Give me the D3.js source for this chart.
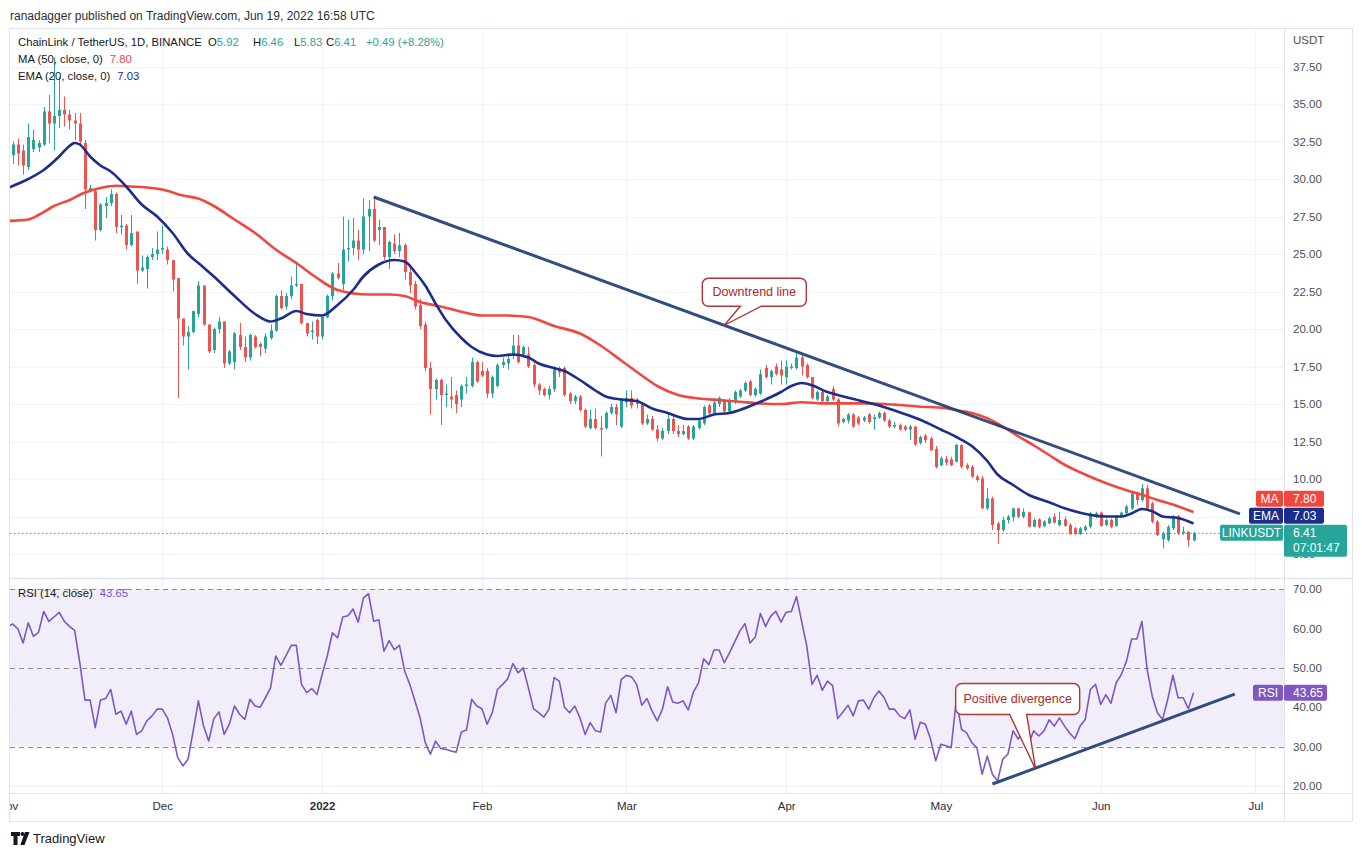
<!DOCTYPE html>
<html><head><meta charset="utf-8">
<script src="https://cdn.jsdelivr.net/npm/d3@7"></script>
<style>
html,body{margin:0;padding:0;background:#fff;}
svg{display:block;font-family:"Liberation Sans",Arial,sans-serif;}
</style></head><body>
<svg id="c" width="1362" height="856"></svg>
<script>
// ---------------- DATA ----------------
const candleStart = "2021-11-02";
const opens = [
31.6,32.3,31.9,30.8,32.0,32.1,32.3,34.5,33.7,34.2,
34.6,34.3,33.9,33.7,32.4,29.2,29.2,26.6,28.2,28.4,
29.0,26.8,26.9,25.6,26.5,23.9,24.0,24.8,25.0,25.3,
25.3,24.6,23.4,20.7,19.5,19.8,21.0,22.9,20.3,18.6,
20.0,20.5,17.7,17.8,19.6,18.8,18.1,19.5,19.0,18.7,
19.4,19.9,22.2,21.5,22.2,22.9,23.0,20.4,19.8,20.6,
19.5,20.8,22.2,23.7,23.0,25.3,25.4,25.9,25.3,27.5,
28.0,26.6,26.8,24.8,25.7,25.2,25.6,23.8,23.0,21.6,
20.3,17.4,16.0,16.6,15.6,15.5,15.6,15.3,16.2,16.2,
17.8,17.2,17.2,15.7,16.2,17.6,17.7,18.2,18.9,18.3,
18.3,17.6,16.3,16.0,15.6,16.0,17.4,17.4,15.7,15.2,
15.5,14.6,13.4,14.0,13.4,13.4,14.4,14.8,13.5,15.1,
15.4,15.3,15.0,13.7,14.0,13.3,12.7,13.2,14.0,13.2,
13.0,13.5,12.7,13.4,13.7,14.9,14.4,15.0,15.2,14.5,
15.2,15.5,15.9,16.5,15.6,15.7,17.4,16.8,17.5,17.3,
16.8,17.4,17.4,18.1,17.6,16.8,15.3,15.8,15.2,16.0,
15.3,13.8,13.9,14.3,14.1,13.9,14.3,14.0,14.1,14.4,
13.9,13.5,13.6,13.5,13.3,13.5,12.4,12.9,12.7,12.0,
10.93,11.33,11.31,11.16,12.27,10.93,10.82,10.16,10.04,8.04,
8.71,7.04,6.6,7.27,7.45,8.04,7.49,7.78,6.82,7.31,
6.87,7.04,7.49,6.93,7.31,6.93,6.71,6.33,6.6,6.82,
7.49,7.76,6.93,7.27,6.87,7.49,7.71,8.04,9.04,8.6,
9.38,8.38,7.16,5.98,5.93,6.71,7.53,6.38,6.49,5.92];
const highs = [
32.5,32.7,32.3,33.7,33.3,32.6,34.8,35.6,38.1,36.8,
35.5,34.6,34.4,34.4,32.6,29.6,29.3,28.4,28.8,29.3,
29.1,27.6,27.0,27.6,26.5,24.9,24.9,25.4,26.5,26.9,
25.5,24.6,23.4,20.7,20.2,21.2,23.2,22.9,20.3,20.1,
20.8,20.5,18.6,19.8,20.4,19.5,19.7,19.6,19.1,19.7,
20.3,22.3,22.6,22.4,23.5,24.5,23.0,20.4,20.5,20.7,
20.9,22.3,23.8,24.4,27.5,27.3,27.4,26.6,28.7,28.6,
28.8,27.3,26.8,25.9,26.3,26.4,25.7,24.3,23.2,22.0,
20.5,17.8,16.7,16.7,16.3,16.8,15.9,16.3,16.8,18.1,
17.9,17.8,17.4,16.9,17.7,18.1,18.3,19.6,19.6,18.9,
18.8,17.8,16.4,16.1,16.2,17.5,17.5,17.5,15.8,15.6,
15.6,14.7,14.6,14.7,14.2,14.5,15.0,15.0,15.4,15.9,
15.9,15.4,15.0,14.3,14.2,13.6,13.4,14.4,14.2,13.6,
13.6,13.6,13.6,14.0,14.9,15.0,15.4,15.5,15.3,15.4,
15.9,16.0,16.5,16.6,16.1,17.3,17.6,17.3,17.7,17.9,
17.9,17.7,18.4,18.3,17.7,16.8,15.9,15.9,15.6,16.2,
15.4,14.1,14.4,14.4,14.2,14.2,14.4,14.3,14.5,14.5,
14.0,13.8,13.7,13.6,13.6,13.5,12.9,13.0,12.8,12.2,
11.5,11.55,11.5,12.33,12.3,11.05,10.93,10.27,10.2,9.38,
8.82,7.16,7.49,7.6,8.09,8.09,8.04,7.82,7.38,7.38,
7.25,7.49,7.71,7.82,7.49,7.04,6.8,6.8,6.93,7.82,
7.82,7.82,7.35,7.38,7.6,7.82,8.27,9.16,9.16,9.67,
9.6,8.49,7.27,6.49,6.93,7.6,7.6,6.82,6.49,6.46];
const lows = [
31.0,30.9,30.3,30.6,31.8,31.8,32.2,32.4,31.9,33.4,
33.5,33.3,32.6,32.3,28.0,29.1,25.9,26.5,27.4,28.2,
26.4,26.3,25.3,25.5,23.0,23.8,22.7,24.6,24.6,25.0,
24.3,22.5,15.4,18.9,17.3,19.7,20.8,20.2,18.4,18.4,
19.7,17.4,17.6,17.3,18.6,17.8,17.9,18.7,18.2,18.4,
19.3,19.8,21.3,21.3,22.0,22.8,20.3,19.5,19.3,19.0,
19.3,20.7,21.9,23.3,22.6,24.5,24.9,24.6,25.0,25.2,
25.8,25.6,24.6,24.0,25.0,24.8,23.3,22.4,21.3,20.0,
17.2,14.3,15.3,13.6,14.8,14.7,14.4,14.8,15.7,16.1,
16.4,16.8,15.4,15.4,16.1,17.4,17.3,18.0,17.7,18.1,
17.4,16.1,15.6,15.5,15.3,15.8,16.8,15.5,15.0,15.0,
14.5,13.4,13.3,13.3,11.5,13.3,14.3,13.6,13.4,14.8,
14.7,14.7,13.6,13.6,13.2,12.5,12.6,13.0,13.0,12.8,
12.9,12.6,12.6,13.3,13.6,14.3,14.3,14.8,14.4,14.4,
15.0,15.4,15.8,15.5,15.5,15.6,16.7,16.3,16.9,16.3,
16.3,17.3,17.3,16.9,16.7,15.3,15.2,15.1,15.1,15.2,
13.5,13.7,13.7,13.4,13.6,13.8,13.7,13.3,14.0,13.8,
13.4,13.4,13.2,13.2,12.6,12.2,12.3,12.4,11.9,10.7,
10.85,10.9,10.85,11.1,10.7,10.6,10.05,9.82,8.0,7.93,
6.6,5.67,6.49,7.04,7.16,7.38,7.38,6.76,6.78,6.71,
6.8,7.0,7.04,6.82,6.82,6.27,6.25,6.27,6.49,6.71,
7.38,6.82,6.87,6.71,6.82,7.38,7.6,7.93,8.27,8.49,
8.04,7.04,6.2,5.38,5.82,6.6,6.27,6.27,5.49,5.83];
const closes = [
32.3,31.7,30.9,32.8,32.6,32.4,34.5,33.7,34.2,34.6,
34.3,33.9,33.7,32.5,29.3,29.4,26.6,28.3,28.4,29.0,
26.8,26.9,25.6,26.4,23.9,24.1,24.8,25.0,25.3,25.4,
24.6,23.3,20.7,19.5,19.8,21.2,22.9,20.3,18.5,20.0,
20.5,17.7,18.5,19.7,18.8,18.1,19.6,18.8,18.8,19.5,
19.9,22.2,21.4,22.2,22.9,23.0,20.4,19.7,19.9,19.5,
20.8,22.2,23.7,23.4,25.3,25.4,25.9,25.3,27.5,28.0,
25.9,26.8,24.8,25.8,25.2,25.6,23.8,22.9,21.5,20.2,
17.4,16.0,16.6,15.6,15.7,15.3,15.0,16.2,16.3,17.8,
16.5,16.9,15.7,16.8,17.6,17.8,18.0,18.9,17.8,18.8,
17.5,16.3,15.9,15.6,16.0,17.4,17.1,15.6,15.2,15.5,
14.6,13.5,14.0,13.4,13.3,14.4,14.8,14.3,15.3,15.4,
14.9,15.0,13.7,14.0,13.3,12.7,13.2,14.0,13.2,13.0,
13.2,12.7,13.5,13.9,14.8,14.4,15.1,15.4,14.5,15.2,
15.8,15.9,16.4,15.6,16.0,17.0,16.8,17.2,17.0,16.9,
17.5,17.5,18.1,17.5,16.8,15.4,15.8,15.2,15.5,15.3,
13.7,14.0,14.3,13.5,13.7,14.1,13.8,14.1,14.4,13.9,
13.5,13.6,13.3,13.3,13.5,12.3,12.8,12.6,11.9,10.8,
11.38,11.09,10.93,12.27,10.82,10.71,10.16,9.93,8.04,8.71,
6.93,6.6,7.27,7.49,8.04,7.49,7.82,6.82,7.27,6.82,
7.16,7.38,7.09,7.27,6.87,6.33,6.33,6.71,6.82,7.71,
7.71,6.87,7.27,6.82,7.49,7.76,8.16,9.04,8.6,9.38,
8.04,7.16,6.27,6.38,6.82,7.49,6.38,6.49,5.92,6.41];

const rsiStart = "2021-11-01";
const rsiValues = [
60.5,61.1,59.9,56.3,61.4,58.0,59.0,64.3,61.8,62.9,
64.1,61.8,60.5,59.5,51.3,41.8,41.8,34.8,41.8,42.2,
44.5,38.2,39.0,35.7,39.0,33.1,34.0,36.5,37.8,39.5,
39.5,37.3,33.1,27.2,25.1,26.8,34.0,41.6,35.2,31.4,
37.1,38.8,33.1,35.7,40.3,38.2,36.9,42.0,40.3,40.0,
42.4,44.9,53.0,50.6,53.1,55.7,55.7,45.8,43.7,44.7,
43.2,48.3,53.0,58.9,57.6,62.9,63.2,64.9,61.6,67.7,
68.8,61.8,62.2,54.2,56.9,54.6,55.7,49.2,45.8,41.6,
37.3,31.0,28.1,31.4,29.5,29.3,28.9,28.6,33.7,34.2,
42.0,40.3,39.6,35.7,38.6,44.5,45.8,47.2,51.1,48.7,
50.0,44.9,39.6,38.6,37.5,39.5,47.5,46.6,40.0,38.6,
40.3,37.3,33.1,36.1,34.0,33.7,41.1,43.0,38.6,47.0,
48.1,47.7,45.8,40.5,42.2,39.0,36.5,39.5,45.2,41.3,
41.0,41.6,39.3,43.8,46.2,52.3,50.8,54.5,54.5,51.3,
53.8,56.5,59.3,61.2,56.3,57.8,63.8,60.5,63.1,64.3,
61.6,64.1,64.3,68.1,61.8,55.5,45.8,48.1,44.3,46.6,
45.5,37.1,38.8,40.5,37.8,41.6,41.8,39.5,42.4,44.1,
42.4,39.5,39.5,37.8,37.1,39.3,31.9,36.2,35.7,31.9,
26.4,30.6,30.2,29.7,42.0,34.4,33.5,31.0,29.7,23.0,
27.6,23.0,21.3,26.8,28.1,34.0,31.9,34.4,30.6,34.0,
32.7,34.0,36.8,35.2,37.3,35.2,33.4,32.0,35.2,36.9,
44.5,45.8,40.7,43.2,41.0,46.2,48.3,51.7,57.3,57.3,
61.8,49.6,42.8,38.6,36.9,42.0,48.1,42.4,42.4,39.6,43.65];

// moving averages (day offset from 2021-11-01, value)
const maBase = "2021-11-01";
const maDays = [0,4,6,9,12,15,18,21,24,30,34,37,40,44,48,52,56,60,64,70,74,77,80,84,88,92,97,101,106,111,115,119,123,126,130,134,138,142,146,150,154,158,162,166,170,173,177,181,184,187,190,193,196,199,202,205,208,211,214,217,220,223,226,228,230];
const maValues = [27.2,27.3,27.6,28.2,28.6,29.1,29.4,29.55,29.5,29.3,28.9,28.7,28.2,27.3,26.4,25.3,24.4,23.4,22.6,22.3,22.3,22.2,21.8,21.5,21.15,20.9,20.9,20.8,20.2,19.7,18.9,17.9,16.9,16.2,15.6,15.37,15.26,15.15,15.04,15.0,15.12,15.04,15.04,15.04,15.0,14.93,14.82,14.75,14.6,14.4,14.05,13.5,12.85,12.25,11.6,10.95,10.45,10.0,9.6,9.25,8.95,8.6,8.3,8.05,7.8];
const emaDays = [0,4,7,10,12,13,14,16,18,20,23,26,29,32,35,37,40,44,48,51,53,56,58,61,64,67,69,72,75,77,79,81,83,85,88,90,93,95,98,101,103,106,108,111,114,116,119,122,125,128,132,134,137,140,142,146,150,152,154,156,159,161,165,169,173,177,181,184,187,190,192,195,198,202,205,208,210,213,216,218,220,222,224,227,230];
const emaValues = [29.4,30.0,30.6,31.5,32.2,32.4,32.3,31.5,30.9,30.5,29.5,28.3,27.5,26.4,25.0,24.4,23.5,22.2,21.0,20.5,20.7,21.2,21.0,20.9,21.6,22.6,23.5,24.3,24.6,24.5,23.8,22.9,21.7,20.6,19.4,18.8,18.3,18.2,18.3,18.1,17.7,17.4,17.2,16.6,15.9,15.5,15.3,15.2,14.7,14.4,14.0,14.0,14.3,14.4,14.6,15.15,15.8,16.2,16.4,16.25,15.8,15.6,15.25,14.9,14.45,13.95,13.3,12.8,12.2,11.2,10.3,9.6,8.95,8.45,8.05,7.75,7.6,7.5,7.5,7.7,8.0,7.85,7.5,7.4,7.03];

const priceTicks = [5,7.5,10,12.5,15,17.5,20,22.5,25,27.5,30,32.5,35,37.5];
const rsiTicks = [20,30,40,50,60,70];
const monthDates = ["2021-11-01","2021-12-01","2022-01-01","2022-02-01","2022-03-01","2022-04-01","2022-05-01","2022-06-01","2022-07-01"];
const monthLabels = ["Nov","Dec","2022","Feb","Mar","Apr","May","Jun","Jul"];

const downtrend = [{date:"2022-01-11", v:28.8},{date:"2022-06-28", v:7.67}];
const rsiTrend = [{date:"2022-05-11", v:20.5},{date:"2022-06-27", v:43.3}];
const maLast = 7.80, emaLast = 7.03, rsiLast = 43.65;
const changeText = "+0.49 (+8.28%)";

// ---------------- LAYOUT ----------------
const parse = d3.utcParse("%Y-%m-%d");
const svg = d3.select("#c");
const PL = 10, PR = 1284, PT = 29, PB = 578, RT = 579, RB = 793, TB = 821, FR = 1352;
const FONT = '"Liberation Sans",Arial,sans-serif';

const x = d3.scaleUtc().domain([parse("2021-11-01"), parse("2022-06-01")]).range([7.6, 1100.7]);
const y = d3.scaleLinear().domain([10, 37.5]).range([479, 66.5]);
const yr = d3.scaleLinear().domain([20, 70]).range([786, 589]);

const defs = svg.append("defs");
defs.append("clipPath").attr("id","cpMain").append("rect").attr("x",PL).attr("y",PT).attr("width",PR-PL).attr("height",PB-PT);
defs.append("clipPath").attr("id","cpRsi").append("rect").attr("x",PL).attr("y",RT).attr("width",PR-PL).attr("height",RB-RT);
defs.append("clipPath").attr("id","cpTime").append("rect").attr("x",PL).attr("y",RB).attr("width",PR-PL).attr("height",TB-RB);

// header
svg.append("text").attr("x",10).attr("y",19.5).attr("font-size",12).attr("fill","#2a2e39")
  .text("ranadagger published on TradingView.com, Jun 19, 2022 16:58 UTC");

// grid
const grid = svg.append("g");
const gMain = grid.append("g").attr("clip-path","url(#cpMain)");
gMain.selectAll("line.h").data(priceTicks).join("line")
  .attr("x1",PL).attr("x2",PR).attr("y1",d=>Math.round(y(d))+0.5).attr("y2",d=>Math.round(y(d))+0.5)
  .attr("stroke","#f0f3fa");
const mDates = monthDates.map(parse);
gMain.selectAll("line.v").data(mDates).join("line")
  .attr("x1",d=>Math.round(x(d))+0.5).attr("x2",d=>Math.round(x(d))+0.5).attr("y1",PT).attr("y2",PB)
  .attr("stroke","#f0f3fa");
const gR = grid.append("g").attr("clip-path","url(#cpRsi)");
gR.append("rect").attr("x",PL).attr("width",PR-PL).attr("y",yr(70)).attr("height",yr(30)-yr(70))
  .attr("fill","rgba(126,87,194,0.1)");
gR.selectAll("line.v").data(mDates).join("line")
  .attr("x1",d=>Math.round(x(d))+0.5).attr("x2",d=>Math.round(x(d))+0.5).attr("y1",RT).attr("y2",RB)
  .attr("stroke","#eceff5");
gR.selectAll("line.h").data([20,40,60]).join("line")
  .attr("x1",PL).attr("x2",PR).attr("y1",d=>Math.round(yr(d))+0.5).attr("y2",d=>Math.round(yr(d))+0.5)
  .attr("stroke","#eceff5");
gR.selectAll("line.d").data([30,50,70]).join("line")
  .attr("x1",PL).attr("x2",PR).attr("y1",d=>Math.round(yr(d))+0.5).attr("y2",d=>Math.round(yr(d))+0.5)
  .attr("stroke","#8a8d96").attr("stroke-dasharray","5,4");

// candles
const candles = opens.map((o,i)=>({date:d3.utcDay.offset(parse(candleStart), i), o, h:highs[i], l:lows[i], c:closes[i]}));
const UP="#26a69a", DN="#ef5350";
const gc = svg.append("g").attr("clip-path","url(#cpMain)");
gc.selectAll("line.w").data(candles).join("line")
  .attr("x1",d=>Math.round(x(d.date))+0.5).attr("x2",d=>Math.round(x(d.date))+0.5)
  .attr("y1",d=>y(d.h)).attr("y2",d=>y(d.l))
  .attr("stroke",d=>d.c>=d.o?UP:DN).attr("stroke-width",1);
gc.selectAll("rect.b").data(candles).join("rect")
  .attr("x",d=>Math.round(x(d.date))-1).attr("width",3)
  .attr("y",d=>y(Math.max(d.o,d.c))).attr("height",d=>Math.max(1,Math.abs(y(d.o)-y(d.c))))
  .attr("fill",d=>d.c>=d.o?UP:DN);

// last price dotted line
const last = candles[candles.length-1];
gc.append("line").attr("x1",PL).attr("x2",PR).attr("y1",Math.round(y(last.c))+0.5).attr("y2",Math.round(y(last.c))+0.5)
  .attr("stroke",UP).attr("stroke-dasharray","1.5,2.5").attr("stroke-width",1);

// MA / EMA
const maBaseD = parse(maBase);
const maPts = maDays.map((d,i)=>({date:d3.utcDay.offset(maBaseD,d), v:maValues[i]}));
const emaPts = emaDays.map((d,i)=>({date:d3.utcDay.offset(maBaseD,d), v:emaValues[i]}));
const lineP = d3.line().x(d=>x(d.date)).y(d=>y(d.v)).curve(d3.curveMonotoneX);
gc.append("path").attr("d",lineP(maPts)).attr("fill","none").attr("stroke","#f0483e").attr("stroke-width",2.6).attr("stroke-linejoin","round");
gc.append("path").attr("d",lineP(emaPts)).attr("fill","none").attr("stroke","#1b2e8c").attr("stroke-width",2.6).attr("stroke-linejoin","round");

// downtrend line
const dt = downtrend.map(d=>({date:parse(d.date), v:d.v}));
gc.append("line").attr("x1",x(dt[0].date)).attr("y1",y(dt[0].v)).attr("x2",x(dt[1].date)).attr("y2",y(dt[1].v))
  .attr("stroke","#1f3f75").attr("stroke-opacity",0.92).attr("stroke-width",3);

// callout helper
function callout(g, tx, ty, bx0, by0, bx1, by1, tb0, tb1, label, fs){
  const r=6;
  const p = `M${bx0+r},${by0} H${bx1-r} A${r},${r} 0 0 1 ${bx1},${by0+r} V${by1-r} A${r},${r} 0 0 1 ${bx1-r},${by1} H${tb1} L${tx},${ty} L${tb0},${by1} H${bx0+r} A${r},${r} 0 0 1 ${bx0},${by1-r} V${by0+r} A${r},${r} 0 0 1 ${bx0+r},${by0} Z`;
  g.append("path").attr("d",p).attr("fill","#ffffff").attr("stroke","#a8383a").attr("stroke-width",1.4);
  g.append("text").attr("x",(bx0+bx1)/2).attr("y",(by0+by1)/2).attr("text-anchor","middle")
    .attr("dominant-baseline","central").attr("font-size",fs).attr("fill","#b0282a").text(label);
}
{
  const tx = x(parse("2022-03-20")), ty = y(20.25);
  callout(svg.append("g"), tx, ty, tx-22, ty-47, tx+82, ty-19, tx+16, tx+37, "Downtrend line", 12.5);
}

// RSI line
const rsiPts = rsiValues.map((v,i)=>({date:d3.utcDay.offset(parse(rsiStart), i), v}));
const gr = svg.append("g").attr("clip-path","url(#cpRsi)");
gr.append("path").attr("d", d3.line().x(d=>x(d.date)).y(d=>yr(d.v))(rsiPts))
  .attr("fill","none").attr("stroke","#7e57c2").attr("stroke-width",1.6).attr("stroke-linejoin","round");
const rt = rsiTrend.map(d=>({date:parse(d.date), v:d.v}));
gr.append("line").attr("x1",x(rt[0].date)).attr("y1",yr(rt[0].v)).attr("x2",x(rt[1].date)).attr("y2",yr(rt[1].v))
  .attr("stroke","#1f3f75").attr("stroke-opacity",0.92).attr("stroke-width",3);
{
  const tx = x(parse("2022-05-19")) + 2, ty = yr(24.2);
  callout(svg.append("g"), tx, ty, tx-80, ty-86, tx+44, ty-55, tx-26, tx-9, "Positive divergence", 12.5);
}

// frame
const fr = svg.append("g").attr("fill","none").attr("stroke","#e0e3eb");
fr.append("rect").attr("x",9.5).attr("y",28.5).attr("width",FR-9).attr("height",TB-28);
fr.append("line").attr("x1",PR+0.5).attr("x2",PR+0.5).attr("y1",28.5).attr("y2",TB+0.5);
fr.append("line").attr("x1",9.5).attr("x2",FR+0.5).attr("y1",PB+0.5).attr("y2",PB+0.5).attr("stroke-width",1.5);
fr.append("line").attr("x1",9.5).attr("x2",FR+0.5).attr("y1",RB+0.5).attr("y2",RB+0.5);

// price axis
const axP = svg.append("g").attr("transform",`translate(${PR},0)`)
  .call(d3.axisRight(y).tickValues(priceTicks).tickFormat(d3.format(".2f")).tickSize(0).tickPadding(9));
axP.select(".domain").remove();
axP.selectAll("text").attr("font-family",FONT).attr("font-size",11.5).attr("fill","#4a4e59");
svg.append("text").attr("x",PR+9).attr("y",44).attr("font-size",11.5).attr("fill","#4a4e59").text("USDT");

const axR = svg.append("g").attr("transform",`translate(${PR},0)`)
  .call(d3.axisRight(yr).tickValues(rsiTicks).tickFormat(d3.format(".2f")).tickSize(0).tickPadding(9));
axR.select(".domain").remove();
axR.selectAll("text").attr("font-family",FONT).attr("font-size",11.5).attr("fill","#4a4e59");

// time axis
const axT = svg.append("g").attr("clip-path","url(#cpTime)").append("g").attr("transform",`translate(0,${RB})`)
  .call(d3.axisBottom(x).tickValues(mDates).tickFormat((d,i)=>monthLabels[i]).tickSize(0).tickPadding(9));
axT.select(".domain").remove();
axT.selectAll("text").attr("font-family",FONT).attr("font-size",11.5).attr("fill","#2a2e39")
  .attr("font-weight",(d,i)=>monthLabels[i]==="2022"?"bold":"normal");

// legends
const lg = svg.append("g").attr("font-size",11.3);
const t1 = lg.append("text").attr("x",18).attr("y",46).attr("fill","#131722");
const first = t1.append("tspan").text("ChainLink / TetherUS, 1D, BINANCE");
const firstEnd = 18 + first.node().getComputedTextLength();
const shift = Math.max(0, firstEnd + 6 - 208);
const ohlcX = [208, 253, 294, 326].map(v=>v+shift);
[["O",last.o],["H",last.h],["L",last.l],["C",last.c]].forEach(([k,v],i)=>{
  t1.append("tspan").attr("x", ohlcX[i]).text(k);
  t1.append("tspan").attr("fill",UP).text(d3.format(".2f")(v));
});
t1.append("tspan").attr("x",366+shift).attr("fill",UP).text(changeText);
const t2 = lg.append("text").attr("x",18).attr("y",63).attr("fill","#131722");
t2.append("tspan").text("MA (50, close, 0)");
t2.append("tspan").attr("dx",7).attr("fill","#f0483e").text(d3.format(".2f")(maLast));
const t3 = lg.append("text").attr("x",18).attr("y",80).attr("fill","#131722");
t3.append("tspan").text("EMA (20, close, 0)");
t3.append("tspan").attr("dx",7).attr("fill","#1b2e8c").text(d3.format(".2f")(emaLast));
const t4 = lg.append("text").attr("x",18).attr("y",597).attr("fill","#131722");
t4.append("tspan").text("RSI (14, close)");
t4.append("tspan").attr("dx",7).attr("fill","#7e57c2").text(d3.format(".2f")(rsiLast));

// price labels on axis
function tag(name, value, cy, color, nameW, valW, extra){
  const g = svg.append("g").attr("font-size",12).attr("fill","#fff");
  const h = extra ? 32 : 16;
  g.append("rect").attr("x",PR-nameW).attr("y",cy-8).attr("width",nameW-1).attr("height",16).attr("rx",2).attr("fill",color);
  g.append("rect").attr("x",PR).attr("y",cy-8).attr("width",valW).attr("height",h).attr("rx",2).attr("fill",color);
  g.append("text").attr("x",PR-nameW/2-0.5).attr("y",cy).attr("dominant-baseline","central").attr("text-anchor","middle").attr("fill","#fff").text(name);
  g.append("text").attr("x",PR+9).attr("y",cy).attr("dominant-baseline","central").attr("fill","#fff").text(value);
  if(extra) g.append("text").attr("x",PR+9).attr("y",cy+15).attr("dominant-baseline","central").attr("fill","#fff").text(extra);
}
const yLast = y(last.c);
const yEma = Math.min(y(emaLast), yLast - 17);
const yMa = Math.min(y(maLast), yEma - 17);
tag("LINKUSDT", d3.format(".2f")(last.c), yLast, "#26a69a", 64, 63, "07:01:47");
tag("EMA", d3.format(".2f")(emaLast), yEma, "#1b2e8c", 35, 40);
tag("MA", d3.format(".2f")(maLast), yMa, "#f0483e", 28, 40);
tag("RSI", d3.format(".2f")(rsiLast), yr(rsiLast), "#7e57c2", 31, 43);

// TradingView logo
const lo = svg.append("g").attr("fill","#131722");
lo.append("path").attr("d","M11 832h9v4h-2.5v9h-4v-9H11z");
lo.append("circle").attr("cx",22.5).attr("cy",834).attr("r",2);
lo.append("path").attr("d","M25 832h4.5l-5 13h-4.2z");
svg.append("text").attr("x",33).attr("y",843).attr("font-size",13).attr("fill","#131722").text("TradingView");
</script>
</body></html>
